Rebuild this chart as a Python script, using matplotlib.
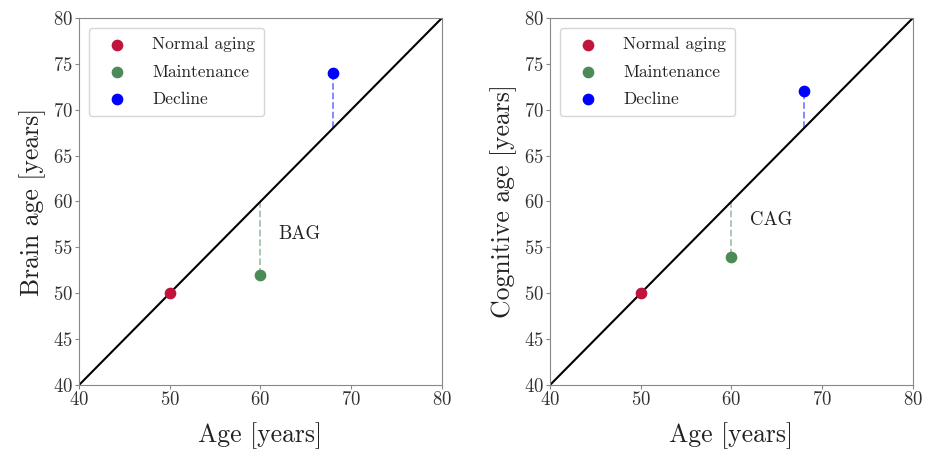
import numpy as np
import matplotlib.pyplot as plt

plt.rcParams['font.family'] = 'cmr10'
plt.rcParams['mathtext.fontset'] = 'cm'
plt.rcParams['axes.formatter.use_mathtext'] = True

# data
ages = [50, 60, 68]
groups = ['Normal aging', 'Maintenance', 'Decline']
colors = ['#c0143c', '#4c8a58', '#0000ff']
brain_age = [50, 52, 74]
cog_age = [50, 54, 72]
panels = [('Brain age [years]', brain_age, 'BAG', (62, 56.5)),
          ('Cognitive age [years]', cog_age, 'CAG', (62, 58))]

fig = plt.figure(figsize=(9.33, 4.49), dpi=100)
lefts = [0.0847, 0.5895]
for left, (ylab, vals, gap, txt) in zip(lefts, panels):
    ax = fig.add_axes([left, 0.1425, 0.389, 0.8175])
    ax.plot([40, 80], [40, 80], color='black', lw=1.5, zorder=2)
    for a, v, c in zip(ages[1:], vals[1:], colors[1:]):
        ax.plot([a, a], [a, v], '--', color=c, alpha=0.5, lw=1.3, zorder=1)
    for a, v, c, g in zip(ages, vals, colors, groups):
        ax.scatter(a, v, s=55, color=c, label=g, zorder=3)
    ax.text(txt[0], txt[1], gap, fontsize=13.5, va='center', color='#222222')
    ax.set_xlim(40, 80)
    ax.set_ylim(40, 80)
    ax.set_xticks(np.arange(40, 81, 10))
    ax.set_yticks(np.arange(40, 81, 5))
    ax.tick_params(labelsize=13.5, color='#888888', labelcolor='#333333',
                   length=3, pad=1.5)
    for s in ax.spines.values():
        s.set_color('#888888')
    ax.set_xlabel('Age [years]', fontsize=18.5, labelpad=9, color='#222222')
    ax.set_ylabel(ylab, fontsize=18.5, labelpad=5, color='#222222')
    leg = ax.legend(loc='upper left', fontsize=12.5, handletextpad=0.9,
                    borderpad=0.55, labelspacing=0.68, borderaxespad=0.55,
                    handlelength=2.2)
    for t in leg.get_texts():
        t.set_color('#222222')

fig.savefig('out.png', dpi=100)
